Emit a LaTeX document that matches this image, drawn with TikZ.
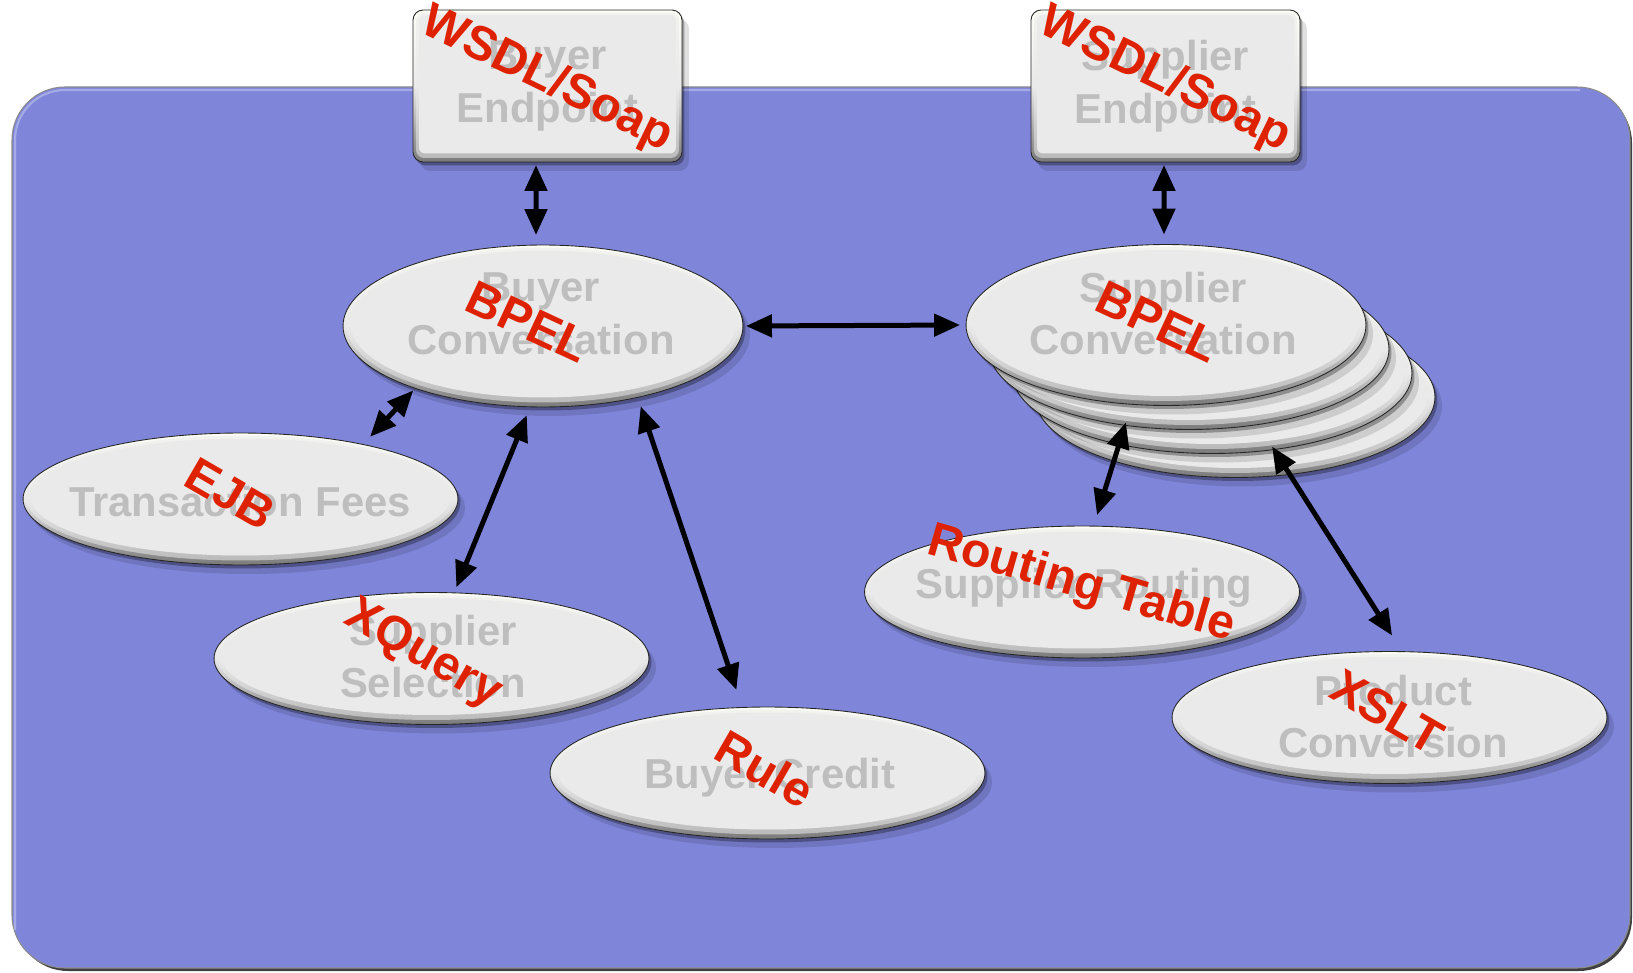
\documentclass[tikz,border=0pt]{standalone}
\usepackage{fontspec}
\setmainfont{Liberation Sans}
\usetikzlibrary{shapes.geometric, arrows.meta, calc, shadows}

\definecolor{bluebg}{RGB}{127,134,218}
\definecolor{txtgray}{RGB}{190,190,190}
\definecolor{redlbl}{RGB}{222,34,0}
\definecolor{face}{RGB}{234,234,234}
\definecolor{rimhi}{RGB}{253,253,246}

\tikzset{
  softshadow/.style={
    drop shadow={shadow xshift=0.14cm, shadow yshift=-0.18cm, opacity=0.12, fill=black},
    drop shadow={shadow xshift=0.05cm, shadow yshift=-0.07cm, opacity=0.3, fill=black}},
  bevel/.style={top color=rimhi, bottom color=black!52, middle color=face,
    draw=black!85, line width=0.5pt},
  disc/.style={ellipse, inner sep=0pt, outer sep=0pt,
    minimum width=8.7cm, minimum height=2.64cm, softshadow, bevel,
    path picture={
      \fill[face, opacity=0.55]
        let \p1=($(path picture bounding box.north east)-(path picture bounding box.center)$) in
        ([yshift=0.02cm]path picture bounding box.center)
        ellipse [x radius=\x1-0.07cm, y radius=\y1-0.07cm];
      \fill[face]
        let \p1=($(path picture bounding box.north east)-(path picture bounding box.center)$) in
        ([yshift=0.04cm]path picture bounding box.center)
        ellipse [x radius=\x1-0.15cm, y radius=\y1-0.15cm];
    }},
  panel/.style={rectangle, rounded corners=0.2cm, inner sep=0pt, outer sep=0pt,
    minimum width=5.38cm, minimum height=3.04cm, softshadow, bevel,
    path picture={
      \fill[face, opacity=0.55, rounded corners=0.16cm]
        ([shift={(0.06cm,0.08cm)}]path picture bounding box.south west) rectangle
        ([shift={(-0.06cm,-0.05cm)}]path picture bounding box.north east);
      \fill[face, rounded corners=0.12cm]
        ([shift={(0.12cm,0.17cm)}]path picture bounding box.south west) rectangle
        ([shift={(-0.12cm,-0.1cm)}]path picture bounding box.north east);
    }},
  graytxt/.style={text=txtgray, font=\bfseries\fontsize{23.8}{30}\selectfont,
    align=center, inner sep=0pt, outer sep=0pt},
  redtxt/.style={text=redlbl, font=\bfseries\fontsize{27.4}{32}\selectfont,
    inner sep=0pt, outer sep=0pt},
  link/.style={line width=0.1cm, black, >={Triangle[length=0.52cm,width=0.44cm]}, <->},
}

\begin{document}
\begin{tikzpicture}[x=0.02cm, y=-0.02cm]
\useasboundingbox (0,0) rectangle (1633,973);

% blue work area
\fill[black!75, rounded corners=1.06cm] (15,90) rectangle (1632,971);
\filldraw[fill=bluebg, draw=black!45, line width=0.6pt, rounded corners=1.06cm]
  (12,87) rectangle (1630,968);
\draw[bluebg!55!white, opacity=0.7, line width=1.2pt, rounded corners=1.0cm]
  (15,930) -- (15,90) -- (1580,90);

% endpoints
\node[panel] (bep) at (547.5,86) {};
\node[panel] (sep) at (1165.5,86) {};

% conversations
\node[disc, minimum width=8cm, minimum height=3.24cm] (bconv) at (543,326) {};
\node[disc, minimum width=8cm, minimum height=3.22cm] (sc4) at (1235,397) {};
\node[disc, minimum width=8cm, minimum height=3.22cm] (sc3) at (1212,373) {};
\node[disc, minimum width=8cm, minimum height=3.22cm] (sc2) at (1189,349) {};
\node[disc, minimum width=8cm, minimum height=3.22cm] (sconv) at (1166,325) {};

% services
\node[disc] (tf) at (240.5,499) {};
\node[disc] (ssel) at (431.5,658.5) {};
\node[disc] (bcred) at (767.5,773) {};
\node[disc] (srout) at (1082,592) {};
\node[disc] (pconv) at (1389.5,717.5) {};

% connectors
\draw[link, shorten <=0.06cm, shorten >=0.2cm] ([xshift=-0.23cm]bep.south) -- ([xshift=-0.14cm]bconv.north);
\draw[link, shorten <=0.06cm, shorten >=0.2cm] ([xshift=-0.03cm]sep.south) -- ([xshift=-0.04cm]sconv.north);
\draw[link, shorten <=0.06cm, shorten >=0.12cm] (bconv.east) -- (sconv.west);
\draw[link, shorten <=0.06cm, shorten >=0.21cm] (bconv.206.6) -- (tf.24.2);
\draw[link, shorten <=0.18cm, shorten >=0.12cm] (bconv.261.8) -- (ssel.71.5);
\draw[link, shorten <=0.19cm, shorten >=0.37cm] (bconv.323.5) -- (bcred.111.5);
\draw[link, shorten <=-0.06cm, shorten >=0.23cm] (sc2.230.8) -- (srout.80.8);
\draw[link, shorten <=-0.07cm, shorten >=0.38cm] (sc3.309.6) -- (pconv.79.4);

% component names
\node[graytxt] (bep-t) at (547.5,86) {Buyer\\Endpoint};
\node[graytxt] (sep-t) at (1165.5,86) {Supplier\\Endpoint};
\node[graytxt] (bconv-t) at (541,313.5) {Buyer\\Conversation};
\node[graytxt] (sconv-t) at (1163,313.5) {Supplier\\Conversation};
\node[graytxt] (tf-t) at (240,502) {Transaction Fees};
\node[graytxt] (ssel-t) at (433,656.5) {Supplier\\Selection};
\node[graytxt] (bcred-t) at (770,777.5) {Buyer Credit};
\node[graytxt] (srout-t) at (1084,587.5) {Supplier Routing};
\node[graytxt] (pconv-t) at (1393,716.5) {Product\\Conversion};

% technology labels
\node[redtxt, rotate=-26] (bep-r) at (547,80) {WSDL/Soap};
\node[redtxt, rotate=-26] (sep-r) at (1165,80) {WSDL/Soap};
\node[redtxt, rotate=-25] (bconv-r) at (528,322) {BPEL};
\node[redtxt, rotate=-25] (sconv-r) at (1158,322) {BPEL};
\node[redtxt, rotate=-30] (tf-r) at (230,494) {EJB};
\node[redtxt, rotate=-30] (ssel-r) at (423,655) {XQuery};
\node[redtxt, rotate=-30] (bcred-r) at (765,769) {Rule};
\node[redtxt, rotate=-16] (srout-r) at (1081,585) {Routing Table};
\node[redtxt, rotate=-30] (pconv-r) at (1387,712) {XSLT};
\end{tikzpicture}
\end{document}
